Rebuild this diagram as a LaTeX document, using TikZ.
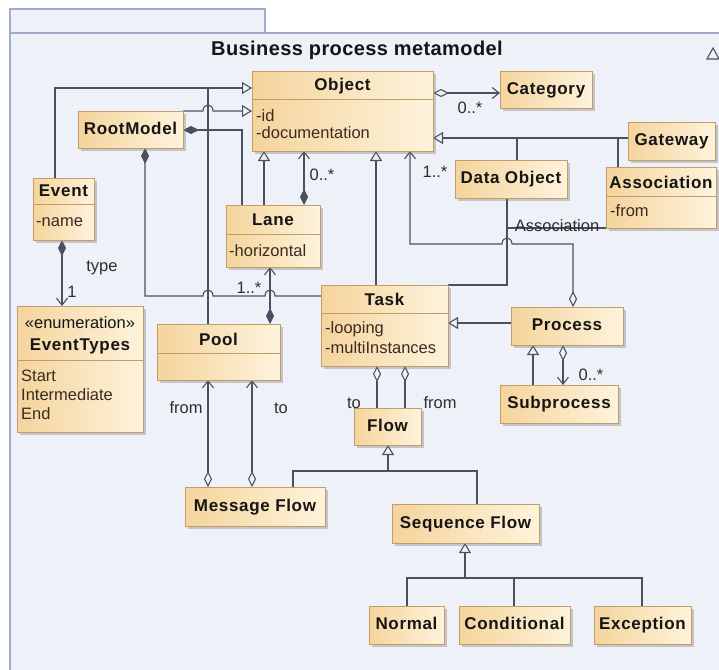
\documentclass[tikz,border=0pt]{standalone}
\usepackage{fontspec}
\setmainfont{Liberation Sans}
\usetikzlibrary{arrows.meta,shadows,calc}
\pgfdeclarelayer{framelayer}
\pgfdeclarelayer{linelayer}
\pgfsetlayers{framelayer,linelayer,main}
\definecolor{linec}{HTML}{4A5062}
\definecolor{boxA}{HTML}{F5D49C}
\definecolor{boxB}{HTML}{FDF3DC}
\definecolor{boxline}{HTML}{C29E66}
\definecolor{framec}{HTML}{A2AACF}
\definecolor{framefill}{HTML}{EFF1F8}
\definecolor{txt}{HTML}{151515}
\definecolor{attrc}{HTML}{3A2A22}
\definecolor{lblc}{HTML}{2E2E2E}
\newcommand\namefont{\fontsize{17}{20}\selectfont\bfseries\addfontfeature{LetterSpace=4}}
\tikzset{
 box/.style={draw=boxline, line width=0.9pt, left color=boxA, right color=boxB,
   drop shadow={shadow xshift=2.5pt, shadow yshift=-2.5pt, opacity=0.35, fill=black!55},
   inner sep=0pt, outer sep=0pt, anchor=north west, text=txt, font=\namefont,
   text height=12.5pt, text depth=3.5pt},
 sepl/.style={draw=boxline, line width=0.9pt},
 cname/.style={font=\namefont, text=txt, inner sep=0pt},
 attr/.style={font=\fontsize{16.5}{19}\selectfont, text=attrc, inner sep=0pt, anchor=west},
 lbl/.style={font=\fontsize{16.5}{19}\selectfont, text=lblc, inner sep=0pt},
 ln/.style={draw=linec, line width=1.1pt},
 gen/.style={ln, -{Triangle[open, length=10pt, width=12pt]}},
 comp/.style={ln, {Diamond[length=16pt,width=8pt]}-},
 compnav/.style={ln, {Diamond[length=16pt,width=8pt]}-{Straight Barb[length=7pt,width=11pt]}},
 agg/.style={ln, {Diamond[open,length=16pt,width=8pt]}-},
 aggnav/.style={ln, {Diamond[open,length=16pt,width=8pt]}-{Straight Barb[length=7pt,width=11pt]}},
}
\begin{document}
\begin{tikzpicture}[x=1pt,y=-1pt]
\useasboundingbox (0,0) rectangle (719,669);
\clip (0,0) rectangle (719,669);
\begin{pgfonlayer}{framelayer}
\fill[white] (0,0) rectangle (719,669);
\draw[framec, fill=framefill, line width=1.2pt] (10,33) rectangle (740,690);
\draw[framec, fill=framefill, line width=1.2pt] (10,9) rectangle (265,33);
\end{pgfonlayer}
\node[font=\fontsize{20}{24}\selectfont\bfseries\addfontfeature{LetterSpace=2}, text=txt, inner sep=0pt] (title) at (357,50) {Business process metamodel};
\draw[linec, line width=1.1pt] (707,59) -- (719,59) -- (713,48) -- cycle;

% ---------- classes ----------
\node[box, minimum width=181pt, minimum height=80pt] (obj) at (252,71) {};
\draw[sepl] ([shift={(0,28)}]obj.north west) -- ([shift={(0,28)}]obj.north east);
\node[cname] (objN) at ([shift={(0,15)}]obj.north) {Object};
\node[attr] (objA) at ([shift={(4,45)}]obj.north west) {-id};
\node[attr] (objB) at ([shift={(4,62)}]obj.north west) {-documentation};

\node[box, minimum width=92pt, minimum height=37pt] (cat) at (500,71) {Category};
\node[box, minimum width=105pt, minimum height=37pt] (root) at (78,111) {RootModel};
\node[box, minimum width=87pt, minimum height=38pt] (gate) at (628,122) {Gateway};
\node[box, minimum width=112pt, minimum height=38pt] (dobj) at (455,160) {Data Object};
\node[box, minimum width=112pt, minimum height=38pt] (proc) at (511,307) {Process};
\node[box, minimum width=118pt, minimum height=38pt] (sub) at (500,385) {Subprocess};
\node[box, minimum width=67pt, minimum height=37pt] (flow) at (354,408) {Flow};
\node[box, minimum width=140pt, minimum height=39pt] (mflow) at (185,487) {Message Flow};
\node[box, minimum width=147pt, minimum height=39pt] (sflow) at (392,504) {Sequence Flow};
\node[box, minimum width=75pt, minimum height=38pt] (normal) at (369,606) {Normal};
\node[box, minimum width=111pt, minimum height=38pt] (cond) at (459,606) {Conditional};
\node[box, minimum width=97pt, minimum height=38pt] (exc) at (594,606) {Exception};

\node[box, minimum width=61pt, minimum height=62pt] (event) at (33,178) {};
\draw[sepl] ([shift={(0,26)}]event.north west) -- ([shift={(0,26)}]event.north east);
\node[cname] (eventN) at ([shift={(0,13)}]event.north) {Event};
\node[attr] (eventA) at ([shift={(3,44)}]event.north west) {-name};

\node[box, minimum width=94pt, minimum height=62pt] (lane) at (226,205) {};
\draw[sepl] ([shift={(0,29)}]lane.north west) -- ([shift={(0,29)}]lane.north east);
\node[cname] (laneN) at ([shift={(0,15)}]lane.north) {Lane};
\node[attr] (laneA) at ([shift={(3,46)}]lane.north west) {-horizontal};

\node[box, minimum width=110pt, minimum height=61pt] (assoc) at (606,167) {};
\draw[sepl] ([shift={(0,29)}]assoc.north west) -- ([shift={(0,29)}]assoc.north east);
\node[cname] (assocN) at ([shift={(0,15)}]assoc.north) {Association};
\node[attr] (assocA) at ([shift={(4,44)}]assoc.north west) {-from};

\node[box, minimum width=127pt, minimum height=81pt] (task) at (321,285) {};
\draw[sepl] ([shift={(0,28)}]task.north west) -- ([shift={(0,28)}]task.north east);
\node[cname] (taskN) at ([shift={(0,14)}]task.north) {Task};
\node[attr] (taskA) at ([shift={(4,44)}]task.north west) {-looping};
\node[attr] (taskB) at ([shift={(4,63)}]task.north west) {-multiInstances};

\node[box, minimum width=126pt, minimum height=126pt] (etypes) at (17,306) {};
\draw[sepl] ([shift={(0,54)}]etypes.north west) -- ([shift={(0,54)}]etypes.north east);
\node[lbl, text=txt] (etS) at ([shift={(0,17)}]etypes.north) {«enumeration»};
\node[cname] (etN) at ([shift={(0,40)}]etypes.north) {EventTypes};
\node[attr] (et1) at ([shift={(4,70)}]etypes.north west) {Start};
\node[attr] (et2) at ([shift={(4,89)}]etypes.north west) {Intermediate};
\node[attr] (et3) at ([shift={(4,108)}]etypes.north west) {End};

\node[box, minimum width=123pt, minimum height=56pt] (pool) at (157,324) {};
\draw[sepl] ([shift={(0,29)}]pool.north west) -- ([shift={(0,29)}]pool.north east);
\node[cname] (poolN) at ([shift={(0,15)}]pool.north) {Pool};

% ---------- connectors ----------
\begin{pgfonlayer}{linelayer}
% Event, Pool -> Object
\draw[gen] ([shift={(22,0)}]event.north west) |- ([shift={(0,17)}]obj.north west);
\coordinate (j1) at (208,88);
\draw[ln] ([shift={(51,0)}]pool.north west) -- (j1);
% RootModel -> Object
\draw[gen] (root.north east) -- (203,111) .. controls (203,103) and (213,103) .. (213,111) -- (obj.west |- root.north east);
% RootModel <>- Lane
\draw[comp] ([shift={(0,19)}]root.north east) -| ([shift={(16,0)}]lane.north west);
% Lane -> Object
\draw[gen] ([shift={(38,0)}]lane.north west) -- ([shift={(38,0)}]lane.north west |- obj.south);
\draw[compnav] ([shift={(78,0)}]lane.north west) -- ([shift={(78,0)}]lane.north west |- obj.south);
% Task -> Object
\draw[gen] ([shift={(55,0)}]task.north west) -- ([shift={(55,0)}]task.north west |- obj.south);
% Process <>-> Object
\draw[aggnav] ([shift={(62,0)}]proc.north west) -- (573,244) -- (512,244) .. controls (512,236) and (502,236) .. (502,244) -- (410,244) -- ([shift={(158,0)}]obj.south west);
% Data Object - Task
\draw[ln] ([shift={(52,0)}]dobj.south west) |- (task.north east);
\draw[ln] (assoc.south west) -- ([shift={(52,0)}]dobj.south west |- assoc.south west);
% Gateway, Data Object, Association -> Object
\draw[gen] ([shift={(0,16)}]gate.north west) -- ([shift={(0,16)}]gate.north west -| obj.east);
\draw[ln] ([shift={(62,0)}]dobj.north west) -- ++(0,-22);
\draw[ln] ([shift={(12,0)}]assoc.north west) -- ++(0,-29);
% Object <>-> Category
\draw[aggnav] ([shift={(0,22)}]obj.north east) -- ([shift={(0,22)}]obj.north east -| cat.west);
% Event <>-> EventTypes
\draw[compnav] ([shift={(29,0)}]event.south west) -- ([shift={(29,0)}]event.south west |- etypes.north);
% RootModel <>- Task
\draw[comp] ([shift={(67,0)}]root.south west) |- (203,296) .. controls (203,288) and (213,288) .. (213,296) -- (265,296) .. controls (265,288) and (275,288) .. (275,296) -- ([shift={(0,11)}]task.north west);
% Pool <>-> Lane
\draw[compnav] ([shift={(113,0)}]pool.north west) -- ([shift={(113,0)}]pool.north west |- lane.south);
% Message Flow <>-> Pool
\draw[aggnav] ([shift={(23,0)}]mflow.north west) -- ([shift={(23,0)}]mflow.north west |- pool.south);
\draw[aggnav] ([shift={(67,0)}]mflow.north west) -- ([shift={(67,0)}]mflow.north west |- pool.south);
% Task <>- Flow
\draw[agg] ([shift={(56,0)}]task.south west) -- ([shift={(56,0)}]task.south west |- flow.north);
\draw[agg] ([shift={(84,0)}]task.south west) -- ([shift={(84,0)}]task.south west |- flow.north);
% Process -> Task
\draw[gen] ([shift={(0,16)}]proc.north west) -- ([shift={(0,16)}]proc.north west -| task.east);
% Subprocess -> Process
\draw[gen] ([shift={(33,0)}]sub.north west) -- ([shift={(33,0)}]sub.north west |- proc.south);
\draw[aggnav] ([shift={(52,0)}]proc.south west) -- ([shift={(52,0)}]proc.south west |- sub.north);
% Flow tree
\draw[ln] ([shift={(108,0)}]mflow.north west) |- ([shift={(85,-33)}]sflow.north west) -- ([shift={(85,0)}]sflow.north west);
\draw[gen] ([shift={(34,26)}]flow.south west) -- ([shift={(34,0)}]flow.south west);
% Sequence Flow tree
\draw[ln] ([shift={(38,0)}]normal.north west) |- ([shift={(48,-28)}]exc.north west) -- ([shift={(48,0)}]exc.north west);
\draw[ln] ([shift={(55,0)}]cond.north west) -- ++(0,-28);
\draw[gen] ([shift={(73,35)}]sflow.south west) -- ([shift={(73,0)}]sflow.south west);
\end{pgfonlayer}

% ---------- labels ----------
\node[lbl] (m1) at (322,175) {0..*};
\node[lbl] (m2) at (435,172) {1..*};
\node[lbl] (alab) at (557,226) {Association};
\node[lbl] (m3) at (470,108) {0..*};
\node[lbl] (tl) at (102,268) {type};
\node[lbl] (m4) at (72,292) {1};
\node[lbl] (m5) at (249,288) {1..*};
\node[lbl] (fr1) at (186,408) {from};
\node[lbl] (to1) at (281,408) {to};
\node[lbl] (to2) at (354,403) {to};
\node[lbl] (fr2) at (440,403) {from};
\node[lbl] (m6) at (591,375) {0..*};
\end{tikzpicture}
\end{document}
